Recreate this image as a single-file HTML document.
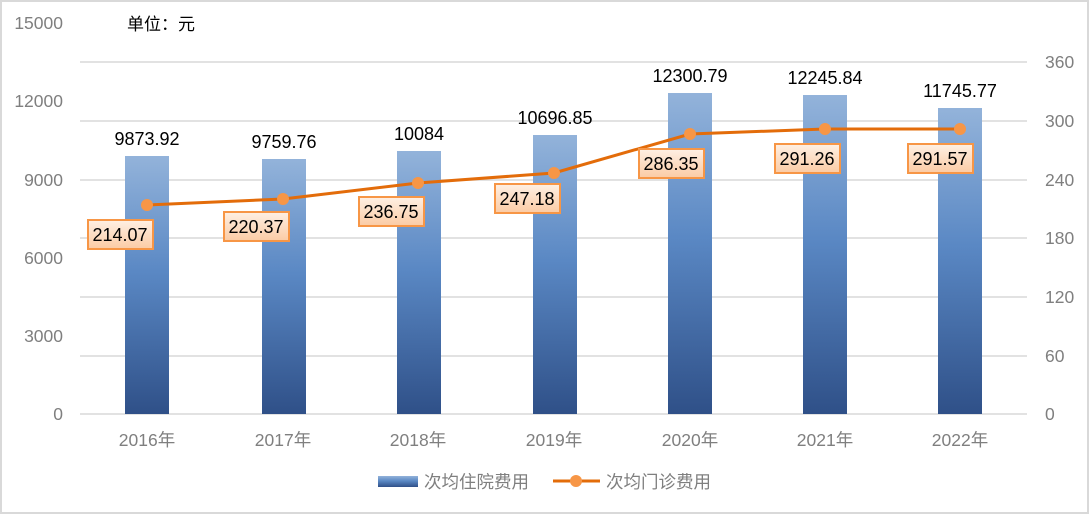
<!DOCTYPE html>
<html><head><meta charset="utf-8"><style>
body{margin:0;background:#fff}
svg text{font-family:"Liberation Sans","Noto Sans CJK SC",sans-serif}
</style></head><body>
<svg width="1089" height="514" xmlns="http://www.w3.org/2000/svg">
<defs>
<linearGradient id="bg" x1="0" y1="0" x2="0" y2="1">
<stop offset="0" stop-color="#93b3da"/><stop offset="0.45" stop-color="#5a88c4"/><stop offset="1" stop-color="#2f5088"/>
</linearGradient>
<linearGradient id="lb" x1="0" y1="0" x2="0" y2="1">
<stop offset="0" stop-color="#fef0e4"/><stop offset="1" stop-color="#fbcba4"/>
</linearGradient>
</defs>
<rect x="1" y="1" width="1087" height="512" fill="#fff" stroke="#d9d9d9" stroke-width="2"/>
<g stroke="#d9d9d9" stroke-width="1.5">
<line x1="80" y1="62" x2="1027" y2="62"/><line x1="80" y1="121" x2="1027" y2="121"/>
<line x1="80" y1="180" x2="1027" y2="180"/><line x1="80" y1="238" x2="1027" y2="238"/>
<line x1="80" y1="297" x2="1027" y2="297"/><line x1="80" y1="356" x2="1027" y2="356"/>
<line x1="80" y1="414" x2="1027" y2="414"/>
</g>
<g font-size="17.5" fill="#7f7f7f" text-anchor="end">
<text x="63" y="29">15000</text><text x="63" y="107">12000</text><text x="63" y="186">9000</text>
<text x="63" y="264">6000</text><text x="63" y="342">3000</text><text x="63" y="420">0</text>
</g>
<g font-size="17.5" fill="#7f7f7f" text-anchor="start">
<text x="1045" y="68">360</text><text x="1045" y="127">300</text><text x="1045" y="186">240</text>
<text x="1045" y="244">180</text><text x="1045" y="303">120</text><text x="1045" y="362">60</text><text x="1045" y="420">0</text>
</g>
<text x="127" y="30" font-size="17" fill="#000">单位：元</text>
<g fill="url(#bg)">
<rect x="125" y="156" width="44" height="258"/><rect x="262" y="159" width="44" height="255"/>
<rect x="397" y="151" width="44" height="263"/><rect x="533" y="135" width="44" height="279"/>
<rect x="668" y="93" width="44" height="321"/><rect x="803" y="95" width="44" height="319"/>
<rect x="938" y="108" width="44" height="306"/>
</g>
<g font-size="18" fill="#000" text-anchor="middle">
<text x="147" y="145">9873.92</text><text x="284" y="148">9759.76</text><text x="419" y="140">10084</text>
<text x="555" y="124">10696.85</text><text x="690" y="82">12300.79</text><text x="825" y="84">12245.84</text>
<text x="960" y="97">11745.77</text>
</g>
<polyline fill="none" stroke="#e36c0a" stroke-width="3" points="147,205 283,199 418,183 554,173 690,134 825,129 960,129"/>
<g fill="#f79646">
<circle cx="147" cy="205" r="6"/><circle cx="283" cy="199" r="6"/><circle cx="418" cy="183" r="6"/>
<circle cx="554" cy="173" r="6"/><circle cx="690" cy="134" r="6"/><circle cx="825" cy="129" r="6"/><circle cx="960" cy="129" r="6"/>
</g>
<g fill="url(#lb)" stroke="#f79646" stroke-width="2">
<rect x="88" y="220" width="65" height="29"/><rect x="224" y="212" width="65" height="29"/>
<rect x="359" y="197" width="65" height="29"/><rect x="495" y="184" width="65" height="29"/>
<rect x="639" y="149" width="65" height="29"/><rect x="775" y="144" width="65" height="29"/>
<rect x="908" y="144" width="65" height="29"/>
</g>
<g font-size="18" fill="#000" text-anchor="middle">
<text x="120" y="241">214.07</text><text x="256" y="233">220.37</text><text x="391" y="218">236.75</text>
<text x="527" y="205">247.18</text><text x="671" y="170">286.35</text><text x="807" y="165">291.26</text>
<text x="940" y="165">291.57</text>
</g>
<g font-size="17.5" fill="#7f7f7f" text-anchor="middle">
<text x="147" y="446">2016年</text><text x="283" y="446">2017年</text><text x="418" y="446">2018年</text>
<text x="554" y="446">2019年</text><text x="690" y="446">2020年</text><text x="825" y="446">2021年</text><text x="960" y="446">2022年</text>
</g>
<rect x="378" y="476" width="40" height="11" fill="url(#bg)"/>
<text x="424" y="488" font-size="17.5" fill="#7f7f7f">次均住院费用</text>
<line x1="553" y1="481" x2="600" y2="481" stroke="#e36c0a" stroke-width="3"/>
<circle cx="576" cy="481" r="6" fill="#f79646"/>
<text x="606" y="488" font-size="17.5" fill="#7f7f7f">次均门诊费用</text>
</svg>
</body></html>
